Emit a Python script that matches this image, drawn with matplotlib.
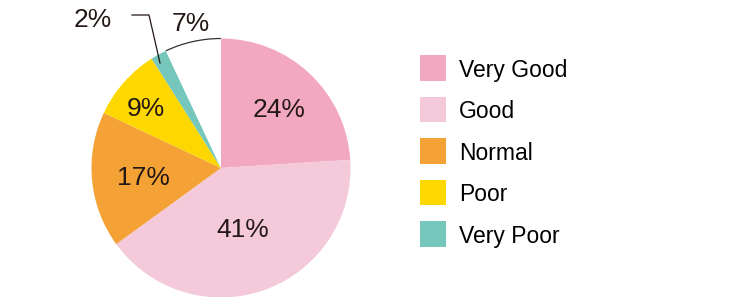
import matplotlib
matplotlib.use("Agg")
import matplotlib.pyplot as plt
from matplotlib.patches import Arc, Rectangle

categories = ["Very Good", "Good", "Normal", "Poor", "Very Poor", "No answer"]
values = [24, 41, 17, 9, 2, 7]
labels = ["24%", "41%", "17%", "9%", "2%", "7%"]
colors = ["#F2A8C1", "#F4CADB", "#F4A236", "#FDD700", "#74C7BA", "#FFFFFF"]

W, H = 740, 297
fig = plt.figure(figsize=(W / 100, H / 100), dpi=100)
ax = fig.add_axes([0, 0, 1, 1])

cx, cy, R = 221, H - 168, 129.5
wedges, _ = ax.pie(values, colors=colors, startangle=90, counterclock=False,
                   center=(cx, cy), radius=R, frame=True,
                   wedgeprops=dict(linewidth=0))
ax.set_xlim(0, W)
ax.set_ylim(0, H)
ax.set_aspect("equal")
ax.axis("off")

# outline arc of the white slice
total = sum(values)
ax.add_patch(Arc((cx, cy), 2 * R, 2 * R, theta1=90,
                 theta2=90 + 360 * values[-1] / total,
                 color="#333333", lw=0.9))

font = "Liberation Sans"
# (center x, baseline y) in pixel coordinates from the top
pos = [(279.5, 117), (242.5, 237), (143, 185), (145.5, 116), (92.5, 27), (190.5, 31)]
for lab, (x, y) in zip(labels, pos):
    ax.text(x, H - y, lab, fontsize=19, ha="center", va="baseline",
            family=font, color="#231815")

# leader line for 2%
ax.plot([132, 149, 160], [H - 15, H - 15, H - 63], color="#231815", lw=0.9)

# legend
rows = [68, 109.5, 151, 192.5, 234]
for cat, col, y in zip(categories[:5], colors[:5], rows):
    ax.add_patch(Rectangle((420, H - y - 12.8), 26, 25.6, color=col, lw=0))
    ax.text(459, H - (y + 8.7), cat, fontsize=16.5, va="baseline", ha="left",
            family=font, color="#000000")

fig.savefig("out.png", dpi=100)
